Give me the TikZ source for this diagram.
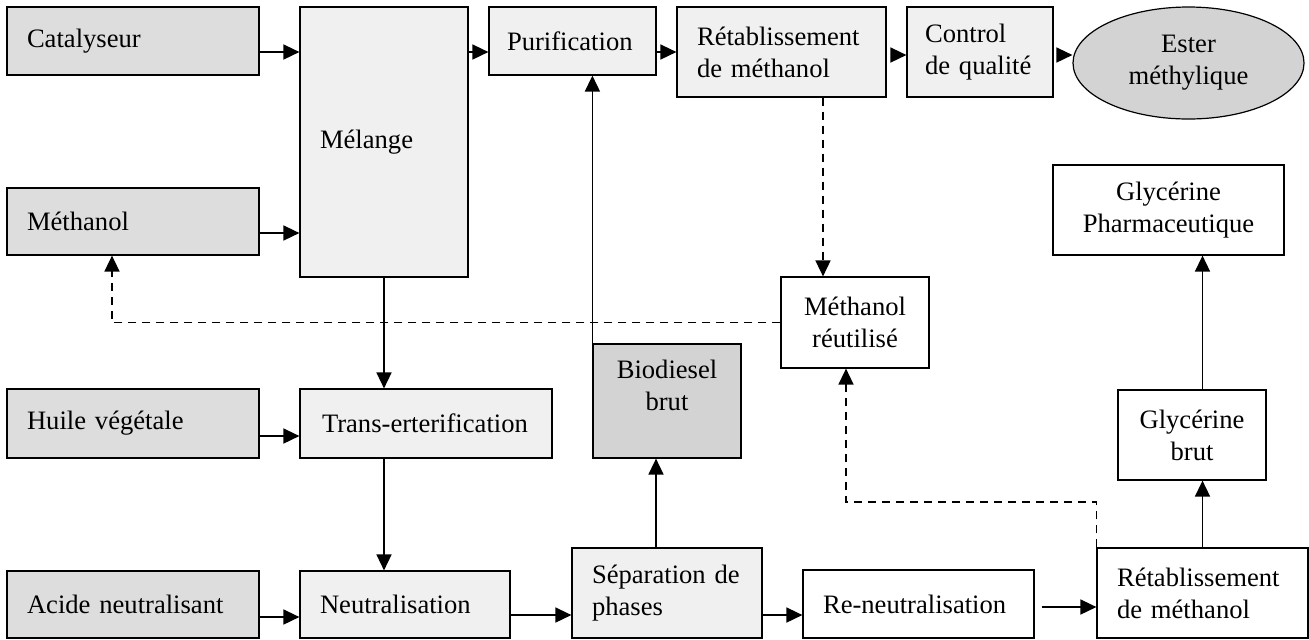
\documentclass[tikz,border=0pt]{standalone}
\usepackage{fontspec}
\setmainfont{Liberation Serif}
\usetikzlibrary{arrows.meta,shapes.geometric}
\definecolor{ingray}{HTML}{DDDDDD}
\definecolor{progray}{HTML}{F0F0F0}
\definecolor{dkgray}{HTML}{D3D3D3}
\begin{document}
\begin{tikzpicture}[x=0.5pt,y=-0.5pt,
    box/.style={rectangle,draw=black,line width=0.6pt,font=\fontsize{13.3}{16}\selectfont},
    lbox/.style={box,align=left,inner xsep=10pt,inner ysep=2pt},
    cbox/.style={box,align=center,fill=white},
    arr/.style={line width=0.8pt,-{Triangle[length=8pt,width=7.5pt]}},
    darr/.style={arr,dash pattern=on 4pt off 3pt}]
            \useasboundingbox (0,0) rectangle (1309,639);
            % inputs
            \node[lbox,fill=ingray,text width=106pt,minimum height=34pt] (cat) at (133,41) {Catalyseur};
            \node[lbox,fill=ingray,text width=106pt,minimum height=33.5pt] (meth) at (133,221.5) {Méthanol};
            \node[lbox,fill=ingray,text width=106pt,minimum height=34.5pt] (huile) at (133,423.5) {Huile végétale};
            \node[lbox,fill=ingray,text width=106pt,minimum height=33.5pt] (acide) at (133,604.5) {Acide neutralisant};
            % process
            \node[lbox,fill=progray,text width=64pt,minimum height=135pt] (mel) at (384,142) {Mélange};
            \node[lbox,fill=progray,inner xsep=9pt,text width=65.5pt,minimum height=34pt] (pur) at (572.5,41) {Purification};
            \node[lbox,fill=progray,text width=84.5pt,minimum height=45pt] (ret1) at (781.5,52) {Rétablissement\\de méthanol};
            \node[lbox,fill=progray,inner xsep=9pt,text width=55pt,minimum height=45pt] (ctrl) at (980,52) {Control\\de qualité};
            \node[box,ellipse,fill=dkgray,align=center,inner sep=0pt,minimum width=115.5pt,minimum height=56pt] (ester) at (1188.5,63) {Ester\\méthylique};
            \node[lbox,fill=progray,inner xsep=11pt,text width=104pt,minimum height=34.5pt] (trans) at (426,423.5) {Trans-erterification};
            \node[lbox,fill=progray,text width=85pt,minimum height=33.5pt] (neut) at (405,604.5) {Neutralisation};
            \node[lbox,fill=progray,text width=75pt,minimum height=45pt] (sep) at (667,593) {Séparation de\\phases};
            \node[cbox,fill=dkgray,minimum width=74pt,minimum height=57pt,text depth=16pt] (bio) at (667,401) {Biodiesel\\brut};
            \node[cbox,minimum width=74pt,minimum height=45.5pt] (mreu) at (855,322.5) {Méthanol\\réutilisé};
            \node[lbox,text width=95.5pt,minimum height=34pt] (reneut) at (918.5,604) {Re-neutralisation};
            \node[lbox,text width=85.5pt,minimum height=45pt] (ret2) at (1202.5,593) {Rétablissement\\de méthanol};
            \node[cbox,minimum width=74pt,minimum height=45pt] (glyb) at (1192,435) {Glycérine\\brut};
            \node[cbox,minimum width=115.5pt,minimum height=45pt] (glyph) at (1168.5,210) {Glycérine\\Pharmaceutique};
            % connexions
            \draw[arr] (cat.east |- 0,52) -- (mel.west |- 0,52);
            \draw[arr] (meth.east |- 0,233) -- (mel.west |- 0,233);
            \draw[arr] (mel.east |- 0,52) -- (pur.west |- 0,52);
            \draw[arr] (pur.east |- 0,52) -- (ret1.west |- 0,52);
            \draw[arr] (ret1.east |- 0,55) ++(9,0) -- (ctrl.west |- 0,55);
            \draw[arr] (ctrl.east |- 0,55) ++(10,0) -- (ester.west |- 0,55);
            \draw[darr] (ret1.south -| 823,0) -- (mreu.north -| 823,0);
            \draw[darr] (mreu.west) -| (meth.south -| 112,0);
            \draw[arr] (mel.south) -- (trans.north -| mel.south);
            \draw[arr] (huile.east |- 0,436) -- (trans.west |- 0,436);
            \draw[arr] (trans.south -| mel.south) -- (neut.north -| mel.south);
            \draw[arr] (acide.east |- 0,617) -- (neut.west |- 0,617);
            \draw[arr] (neut.east |- 0,615) -- (sep.west |- 0,615);
            \draw[arr] (sep.north -| 656,0) -- (bio.south -| 656,0);
            \draw[arr] (bio.north west) -- (pur.south -| bio.north west);
            \draw[arr] (sep.east |- 0,615) -- (reneut.west |- 0,615);
            \draw[arr] (reneut.east |- 0,607) ++(7,0) -- (ret2.west |- 0,607);
            \draw[darr] (ret2.north west) -- (ret2.north west |- 0,502) -| (mreu.south -| 846,0);
            \draw[arr] (ret2.north) -- (glyb.south -| ret2.north);
            \draw[arr] (glyb.north -| ret2.north) -- (glyph.south -| ret2.north);
        \end{tikzpicture}
\end{document}
